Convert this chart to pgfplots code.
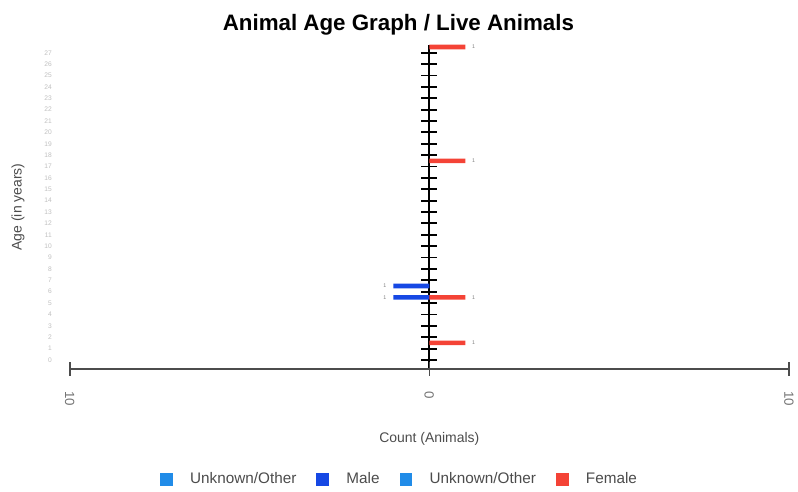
\documentclass[border=0pt]{standalone}
\usepackage{fontspec}
\setmainfont{Liberation Sans}
\usepackage{pgfplots}
\pgfplotsset{compat=1.18}
\definecolor{femalered}{RGB}{244,67,54}
\definecolor{maleblue}{RGB}{22,72,228}
\definecolor{otherblue}{RGB}{33,140,232}
\begin{document}
\begin{tikzpicture}
% centre spine with its ticks
\begin{axis}[
  scale only axis, width=541pt, height=244pt,
  xmin=-10, xmax=10, ymin=-0.8, ymax=27.7,
  axis x line=none, axis y line=center,
  ytick={0,...,27}, yticklabels={},
  tick align=center, major tick length=12pt,
  every tick/.style={black, line width=1.4pt},
  y axis line style={-, black, line width=1.4pt},
]
\end{axis}
\begin{axis}[
  scale only axis, width=541pt, height=244pt,
  xmin=-10, xmax=10, ymin=-0.8, ymax=27.7,
  clip=false,
  axis x line=bottom, axis y line=left,
  y axis line style={draw=none},
  x axis line style={-, draw=black!70, line width=1.2pt},
  xtick={-10,0,10}, xticklabels={10,0,10},
  xtick style={black!70, line width=1.2pt},
  tick align=center, major tick length=10pt,
  xticklabel style={rotate=-90, anchor=west, xshift=8pt, font=\fontsize{10}{12}\selectfont, text=black!55},
  ytick={0,...,27}, ytick style={draw=none},
  yticklabel style={font=\tiny, text=black!25},
  /pgf/number format/assume math mode=true,
  title={Animal Age Graph / Live Animals},
  title style={at={(0.457,1.037)}, anchor=center, font=\bfseries\fontsize{16.8}{19}\selectfont},
  xlabel={Count (Animals)},
  xlabel style={at={(axis description cs:0.5,-0.215)}, anchor=center, font=\fontsize{10.5}{12}\selectfont, text=black!70},
  ylabel={Age (in years)},
  ylabel style={at={(axis description cs:-0.072,0.5)}, anchor=center, font=\fontsize{10.5}{12}\selectfont, text=black!70},
  xbar, bar width=3.5pt, bar shift=0pt,
  point meta=explicit,
  nodes near coords={\pgfmathprintnumber{\pgfplotspointmeta}},
  every node near coord/.append style={anchor=west, font=\fontsize{4}{4}\selectfont, text=black!50, inner sep=5pt},
  legend columns=4,
  legend style={at={(0.459,-0.34)}, anchor=center, draw=none, font=\fontsize{11.5}{13}\selectfont,
    text=black!70,
    /tikz/every odd column/.append style={column sep=11pt},
    /tikz/every even column/.append style={column sep=13pt}},
  legend image code/.code={\fill[#1] (0cm,-0.17cm) rectangle (0.34cm,0.17cm);},
]
\addlegendimage{fill=otherblue, draw=none}
\addlegendentry{Unknown/Other}
\addplot[fill=maleblue, draw=none, every node near coord/.append style={anchor=east}]
  coordinates {(-1,5.5) [1] (-1,6.5) [1]};
\addlegendentry{Male}
\addlegendimage{fill=otherblue, draw=none}
\addlegendentry{Unknown/Other}
\addplot[fill=femalered, draw=none] coordinates {(1,1.5) [1] (1,5.5) [1] (1,17.5) [1] (1,27.5) [1]};
\addlegendentry{Female}
% page margins as in the reference
\path (rel axis cs:-0.097,-0.353) rectangle (rel axis cs:1.008,1.138);
\end{axis}
\end{tikzpicture}
\end{document}
